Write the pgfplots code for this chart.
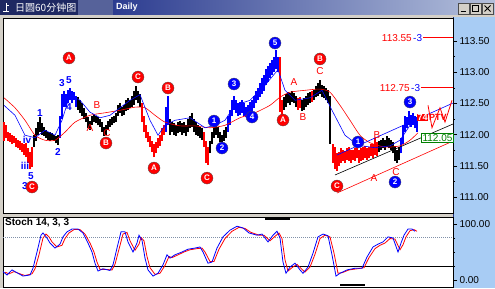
\documentclass[border=0pt]{standalone}
\usepackage{pgfplots}
\pgfplotsset{compat=1.18}
\usepackage{fontspec}
\setmainfont{Liberation Sans}
\newfontfamily\cjk{Noto Sans CJK SC}
\definecolor{winGray}{HTML}{D4D0C8}
\definecolor{titleDark}{HTML}{1E2862}
\definecolor{titleMid}{HTML}{56629A}
\definecolor{titleBlue}{HTML}{2C3C90}
\definecolor{titleLight}{HTML}{B4C0DC}
\definecolor{panelBlue}{HTML}{A8CCF4}
\definecolor{navy}{HTML}{203080}
\definecolor{mygreen}{HTML}{008000}
\definecolor{dotline}{HTML}{8090A8}
\tikzset{
  rc/.style={circle, fill=red, draw=black!70, line width=0.3pt, inner sep=0pt, minimum size=12pt, text=white, font=\bfseries\fontsize{8}{8}\selectfont},
  bc/.style={circle, fill=blue, draw=black!70, line width=0.3pt, inner sep=0pt, minimum size=12pt, text=white, font=\bfseries\fontsize{8}{8}\selectfont},
  rl/.style={text=red, inner sep=0pt, font=\fontsize{10}{10}\selectfont},
  bl/.style={text=blue, inner sep=0pt, font=\bfseries\fontsize{10}{10}\selectfont}
}
\pgfplotsset{
  bars/.style={draw=#1, line width=1.3pt, mark=none, forget plot, -,
    quiver={u=0, v=\thisrow{hi}-\thisrow{lo}}}
}
\begin{document}
\begin{tikzpicture}
% window background
\fill[winGray] (0pt,0pt) rectangle (495pt,288pt);
\fill[titleDark] (0pt,273pt) rectangle (78pt,288pt);
\fill[titleMid] (78pt,273pt) rectangle (113pt,288pt);
\shade[left color=titleBlue, right color=titleLight] (113pt,273pt) rectangle (495pt,288pt);
\draw[white, line width=1pt] (6pt,285pt) -- (6pt,276pt) (3pt,276pt) -- (9pt,276pt) (6pt,282pt) -- (9pt,282pt);
\node[anchor=west, text=white, font=\cjk\fontsize{10}{10}\selectfont, inner sep=0pt] at (15pt,280.5pt) {日圆60分钟图};
\node[anchor=west, text=white, font=\bfseries\fontsize{9}{9}\selectfont, inner sep=0pt] at (116pt,280.5pt) {Daily};
% window buttons
\foreach \bx in {458,470,482} {
  \fill[winGray] (\bx pt,274pt) rectangle (\bx pt+11pt,285pt);
  \draw[black!70, line width=0.5pt] (\bx pt,274pt) rectangle (\bx pt+11pt,285pt);
}
\draw[black, line width=1pt] (460.5pt,276.5pt) -- (465.5pt,276.5pt);
\draw[black, line width=0.8pt] (472.5pt,276.5pt) rectangle (478.5pt,282.5pt);
\draw[black, line width=1pt] (484.5pt,276.5pt) -- (490.5pt,282.5pt) (484.5pt,282.5pt) -- (490.5pt,276.5pt);
% right scale panel
\fill[panelBlue] (453pt,0pt) rectangle (495pt,271pt);
\draw[navy, line width=0.8pt] (453pt,0pt) -- (453pt,271pt);

% ================= main price panel =================
\begin{axis}[
  at={(3pt,75pt)}, anchor=south west, scale only axis,
  width=450pt, height=195pt,
  xmin=3, xmax=453, ymin=110.744, ymax=113.869,
  axis background/.style={fill=white},
  axis line style={black, line width=0.6pt},
  xtick=\empty,
  ytick={111,111.5,112,112.5,113,113.5},
  minor ytick={111.25,111.75,112.25,112.75,113.25},
  ytick pos=right, yticklabel pos=right,
  tick align=outside, major tick length=4pt, minor tick length=2pt,
  tick style={black, line width=0.6pt},
  yticklabel style={font=\fontsize{10}{10}\selectfont, xshift=-1pt,
    /pgf/number format/.cd, fixed, fixed zerofill, precision=2, assume math mode=true},
  clip=false,
]
% black bars
\addplot[bars=black] table[x=x, y=lo] {
x lo hi
34 111.80 112.00
36 111.90 112.10
38 112.00 112.20
40 112.05 112.28
42 112.00 112.18
44 111.98 112.12
46 111.95 112.08
48 111.92 112.05
50 111.90 112.04
52 111.92 112.02
54 111.90 112.00
56 111.86 111.98
58 111.84 112.00
78 112.40 112.60
80 112.35 112.55
82 112.30 112.50
84 112.25 112.42
86 112.20 112.35
88 112.10 112.28
90 112.08 112.22
92 112.15 112.30
94 112.20 112.32
96 112.18 112.30
98 112.15 112.28
100 112.12 112.25
102 112.05 112.20
104 111.98 112.12
106 112.00 112.15
108 112.08 112.22
110 112.12 112.25
112 112.15 112.28
114 112.18 112.30
116 112.20 112.35
118 112.30 112.48
120 112.35 112.50
122 112.30 112.45
124 112.32 112.48
126 112.38 112.55
128 112.40 112.58
130 112.42 112.55
132 112.45 112.62
134 112.48 112.70
136 112.55 112.78
138 112.50 112.70
140 112.45 112.65
170 112.00 112.25
172 112.05 112.20
174 112.00 112.18
176 111.98 112.15
178 112.02 112.20
180 112.05 112.22
182 112.00 112.18
184 112.02 112.20
186 111.98 112.15
188 112.05 112.25
190 112.10 112.30
192 112.12 112.35
194 112.05 112.25
196 112.00 112.20
198 111.98 112.15
200 111.95 112.12
202 111.92 112.10
210 111.70 111.90
212 111.85 112.05
214 111.95 112.15
216 112.00 112.20
218 111.95 112.12
220 111.88 112.05
222 111.85 112.00
224 111.90 112.08
226 111.95 112.12
284 112.40 112.60
286 112.45 112.65
288 112.50 112.68
290 112.48 112.66
292 112.52 112.70
294 112.50 112.66
296 112.45 112.62
302 112.38 112.55
304 112.40 112.58
306 112.45 112.62
308 112.48 112.66
310 112.50 112.68
314 112.55 112.72
316 112.60 112.78
318 112.62 112.82
320 112.65 112.88
322 112.60 112.80
324 112.58 112.78
326 112.55 112.75
328 112.50 112.72
330 111.85 112.62
379 111.72 111.90
381 111.75 111.92
383 111.78 111.95
385 111.76 111.92
387 111.80 111.98
389 111.78 111.95
391 111.75 111.92
393 111.70 111.88
395 111.58 111.82
397 111.55 111.75
399 111.60 111.80
};
% red bars
\addplot[bars=red] table[x=x, y=lo] {
x lo hi
4 111.90 112.20
6 111.95 112.15
8 111.90 112.05
10 111.88 112.02
12 111.85 112.00
14 111.87 111.98
16 111.80 111.95
18 111.78 111.92
20 111.75 111.90
22 111.72 111.87
24 111.68 111.85
26 111.64 111.86
28 111.55 111.78
30 111.45 111.72
32 111.48 111.80
142 112.20 112.50
144 112.05 112.30
146 111.95 112.15
148 111.88 112.05
150 111.80 111.98
152 111.72 111.90
154 111.64 111.85
156 111.70 111.88
158 111.78 111.95
160 111.82 112.00
162 111.90 112.10
164 112.00 112.15
204 111.80 112.05
206 111.55 111.90
208 111.52 111.80
280 112.36 113.25
282 112.30 112.55
298 112.40 112.58
300 112.42 112.60
312 112.52 112.70
333 111.55 111.85
335 111.45 111.80
337 111.42 111.70
339 111.50 111.72
341 111.55 111.78
343 111.58 111.76
345 111.55 111.74
347 111.60 111.78
349 111.58 111.80
351 111.55 111.75
353 111.60 111.76
355 111.58 111.78
357 111.62 111.80
359 111.55 111.75
361 111.58 111.78
363 111.60 111.80
365 111.62 111.82
367 111.60 111.78
369 111.62 111.80
371 111.65 111.85
373 111.62 111.85
375 111.68 111.95
377 111.65 111.88
};
% blue bars
\addplot[bars=blue] table[x=x, y=lo] {
x lo hi
60 111.95 112.30
62 112.25 112.65
64 112.45 112.70
66 112.45 112.65
68 112.50 112.72
70 112.55 112.75
72 112.50 112.70
74 112.55 112.68
76 112.45 112.62
166 112.05 112.45
168 112.15 112.62
228 112.05 112.30
230 112.15 112.40
232 112.30 112.55
234 112.40 112.62
236 112.35 112.55
238 112.30 112.50
240 112.32 112.52
242 112.35 112.55
244 112.30 112.50
246 112.28 112.45
248 112.30 112.48
250 112.35 112.52
252 112.38 112.55
254 112.42 112.62
256 112.50 112.70
258 112.55 112.75
260 112.60 112.82
262 112.65 112.90
264 112.70 112.95
266 112.80 113.05
268 112.85 113.10
270 112.90 113.15
272 112.95 113.20
274 113.00 113.25
276 113.05 113.35
278 113.00 113.25
401 111.70 111.95
403 111.85 112.15
405 112.05 112.30
407 112.10 112.28
409 112.15 112.38
411 112.12 112.32
413 112.15 112.35
415 112.10 112.30
417 112.05 112.28
};
% moving averages
\addplot[red, line width=0.6pt, smooth, tension=0.4] coordinates {
(4,112.59) (15,112.43) (25,112.23) (35,111.99) (45,111.91) (55,111.91) (65,112.04) (75,112.20) (90,112.31) (105,112.35) (120,112.39) (135,112.44) (145,112.43) (155,112.31) (165,112.20) (180,112.14) (195,112.14) (210,112.11) (225,112.15) (240,112.27) (255,112.35) (270,112.47) (280,112.60) (290,112.68) (305,112.71) (320,112.73) (330,112.68) (340,112.47) (350,112.23) (360,111.99) (370,111.87) (385,111.80) (400,111.82) (410,111.91) (418,112.03)};
\addplot[blue, line width=0.6pt] coordinates {
(4,112.47) (15,112.31) (25,111.99) (35,111.95) (45,112.07) (55,111.99) (62,112.23) (70,112.64) (80,112.55) (90,112.36) (100,112.27) (110,112.31) (120,112.43) (130,112.55) (140,112.64) (150,112.23) (158,111.99) (165,112.15) (175,112.23) (190,112.27) (205,112.11) (215,112.15) (225,112.23) (235,112.47) (250,112.55) (265,112.79) (278,113.04) (285,112.71) (295,112.55) (310,112.59) (322,112.71) (332,112.39) (345,111.99) (358,111.83) (375,111.79) (390,111.82) (400,111.91) (410,112.15) (418,112.27)};
% channel lines
\addplot[red, line width=0.6pt] coordinates {(337,111.064) (453,111.897)};
\addplot[black, line width=0.6pt] coordinates {(335,111.353) (453,112.17)};
\addplot[blue, line width=0.6pt] coordinates {(337,111.673) (453,112.506)};
% target lines
\addplot[red, line width=0.9pt] coordinates {(423,113.55) (453,113.55)};
\addplot[red, line width=0.9pt] coordinates {(421,112.75) (453,112.75)};
\node[rl, anchor=east] at (axis cs:412,113.55) {113.55};
\node[text=blue, inner sep=0pt, font=\fontsize{10}{10}\selectfont, anchor=west] at (axis cs:413,113.55) {-3};
\node[rl, anchor=east] at (axis cs:410,112.75) {112.75};
\node[text=blue, inner sep=0pt, font=\fontsize{10}{10}\selectfont, anchor=west] at (axis cs:411,112.75) {-3};
% PTV annotation
\draw[red, line width=0.8pt] (axis cs:428,112.47) -- (axis cs:432,112.11) -- (axis cs:440,112.43) -- (axis cs:445,112.20) -- (axis cs:452,112.55);
\node[fill=red, text=white, inner sep=0.5pt, font=\bfseries\fontsize{9}{9}\selectfont] at (axis cs:422.5,112.27) {74};
\node[text=red, inner sep=0pt, font=\bfseries\fontsize{9}{9}\selectfont, anchor=west] at (axis cs:429,112.28) {PTV};
\node[text=mygreen, draw=mygreen, line width=0.5pt, fill=white, inner sep=1pt, font=\fontsize{10}{10}\selectfont] at (axis cs:437.5,111.945) {112.05};
% wave labels
\node[bl] at (axis cs:27,111.913) {iv};
\node[bl] at (axis cs:25,111.497) {iii};
\node[bl] at (axis cs:31,111.337) {5};
\node[bl] at (axis cs:25,111.176) {3};
\node[rc] at (axis cs:32,111.160) {C};
\node[bl] at (axis cs:40,112.346) {1};
\node[bl] at (axis cs:58,111.721) {2};
\node[bl] at (axis cs:62,112.827) {3};
\node[bl] at (axis cs:69,112.875) {5};
\node[bl] at (axis cs:69,112.442) {4};
\node[rc] at (axis cs:69,113.228) {A};
\node[rl] at (axis cs:90,112.106) {A};
\node[rl] at (axis cs:97,112.474) {B};
\node[rl] at (axis cs:107,112.026) {C};
\node[rc] at (axis cs:106,111.865) {B};
\node[rc] at (axis cs:138,112.923) {C};
\node[rc] at (axis cs:154,111.465) {A};
\node[rc] at (axis cs:168,112.747) {B};
\node[rc] at (axis cs:207,111.304) {C};
\node[bc] at (axis cs:214,112.218) {1};
\node[bc] at (axis cs:222,111.785) {2};
\node[bc] at (axis cs:234,112.811) {3};
\node[bc] at (axis cs:252,112.282) {4};
\node[bc] at (axis cs:275,113.468) {5};
\node[rc] at (axis cs:283,112.234) {A};
\node[rl] at (axis cs:294,112.843) {A};
\node[rl] at (axis cs:303,112.282) {B};
\node[rl] at (axis cs:320,113.019) {C};
\node[rc] at (axis cs:320,113.212) {B};
\node[rc] at (axis cs:337,111.176) {C};
\node[bc] at (axis cs:358,111.881) {1};
\node[rl] at (axis cs:377,111.994) {B};
\node[rl] at (axis cs:374,111.304) {A};
\node[rl] at (axis cs:396,111.401) {C};
\node[bc] at (axis cs:395,111.240) {2};
\node[bc] at (axis cs:410,112.522) {3};
\end{axis}

% ================= stochastic panel =================
\begin{axis}[
  at={(3pt,1pt)}, anchor=south west, scale only axis,
  width=450pt, height=70pt,
  xmin=3, xmax=453, ymin=-12.5, ymax=112.5,
  axis background/.style={fill=white},
  axis line style={black, line width=0.6pt},
  xtick=\empty,
  ytick={0,100}, yticklabels={0.00,100.00},
  minor ytick={25,50,75},
  ytick pos=right, yticklabel pos=right,
  tick align=outside, major tick length=4pt, minor tick length=2pt,
  tick style={black, line width=0.6pt},
  yticklabel style={font=\fontsize{10}{10}\selectfont, xshift=-1pt},
  clip=false,
]
\addplot[dotline, line width=1pt, densely dotted] coordinates {(3,75) (453,75)};
\addplot[black, line width=0.8pt] coordinates {(3,25) (453,25)};
\addplot[red, line width=0.8pt] coordinates {
(5,14) (9,11) (14,15) (20,11) (25,8) (32,11) (35,20) (39,45) (43,75) (46,82) (49,77) (52,68) (57,59) (62,62) (65,74) (69,84) (74,90) (80,90) (85,82) (90,66) (94,50) (97,32) (100,19) (105,19) (112,18) (115,28) (119,55) (123,82) (127,85) (130,70) (135,53) (139,64) (141,76) (144,70) (147,42) (150,22) (155,10) (160,12) (165,26) (169,42) (172,40) (177,44) (184,50) (190,54) (197,56) (202,57) (205,50) (210,33) (214,33) (219,55) (225,74) (232,87) (239,94) (245,92) (251,85) (259,80) (264,80) (270,70) (275,78) (279,84) (282,74) (285,36) (288,16) (292,22) (297,28) (302,19) (305,14) (310,23) (315,46) (320,74) (325,80) (330,77) (334,48) (338,12) (342,13) (349,18) (357,20) (364,22) (369,40) (375,56) (380,62) (385,66) (390,74) (395,73) (400,54) (403,63) (406,77) (410,88) (414,90) (417,87)};
\addplot[blue, line width=0.8pt] coordinates {
(3,15) (7,9) (12,18) (18,12) (23,7) (30,9) (33,21) (37,50) (41,80) (43,84) (47,75) (50,66) (55,57) (60,64) (63,77) (67,86) (72,91) (78,91) (83,84) (88,66) (92,50) (95,30) (98,16) (103,20) (110,17) (113,27) (117,57) (121,86) (125,86) (128,68) (133,50) (137,66) (139,80) (142,71) (145,39) (148,18) (153,7) (158,12) (163,27) (167,45) (170,39) (175,45) (182,50) (188,55) (195,57) (200,59) (203,50) (208,30) (212,32) (217,57) (223,77) (230,89) (237,96) (243,93) (249,84) (257,80) (262,82) (268,68) (273,80) (277,87) (280,75) (283,32) (286,12) (290,23) (295,30) (300,18) (303,12) (308,23) (313,48) (318,77) (323,82) (328,79) (332,45) (336,7) (340,12) (347,18) (355,21) (362,21) (367,41) (373,59) (378,64) (383,68) (388,77) (393,75) (398,50) (401,66) (404,80) (408,91) (412,91) (415,87)};
\draw[black, line width=2.5pt] (axis cs:265,109) -- (axis cs:290,109);
\draw[black, line width=2.5pt] (axis cs:340,-9) -- (axis cs:365,-9);
\node[anchor=north west, inner sep=0pt, font=\bfseries\fontsize{10}{10}\selectfont] at (axis cs:5,110) {Stoch 14, 3, 3};
\end{axis}
\end{tikzpicture}
\end{document}
